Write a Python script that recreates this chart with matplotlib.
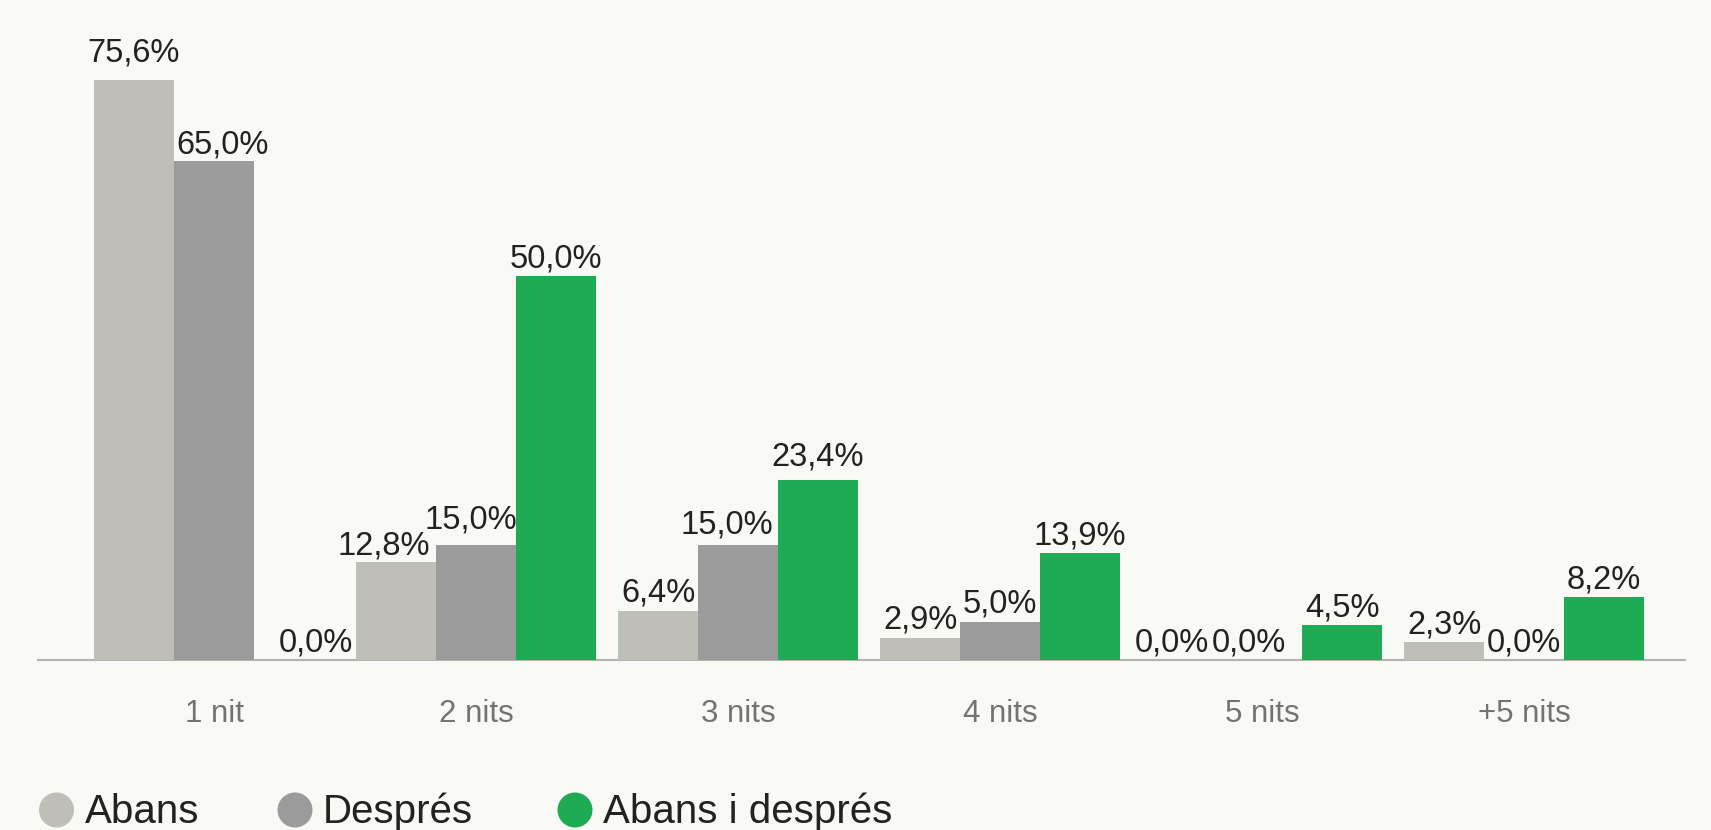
import matplotlib
matplotlib.use("Agg")
import matplotlib.pyplot as plt
from matplotlib.patches import Ellipse
import numpy as np

categories = ["1 nit", "2 nits", "3 nits", "4 nits", "5 nits", "+5 nits"]
series_names = ["Abans", "Després", "Abans i després"]
abans = [75.6, 12.8, 6.4, 2.9, 0.0, 2.3]
despres = [65.0, 15.0, 15.0, 5.0, 0.0, 0.0]
abans_i_despres = [0.0, 50.0, 23.4, 13.9, 4.5, 8.2]
colors = ["#bfbfb7", "#9b9b9b", "#1fab54"]

W, H = 1711, 830
DPI = 100
BG = "#f9f9f6"
plt.rcParams['font.family'] = ['Liberation Sans', 'DejaVu Sans']

fig = plt.figure(figsize=(W / DPI, H / DPI), dpi=DPI, facecolor=BG)

# axes placement in pixels
ax_left, ax_right = 38, 1685
ax_bottom_px = 660  # from top
group_px = 262
first_center = 214
ax = fig.add_axes([ax_left / W, (H - ax_bottom_px) / H,
                   (ax_right - ax_left) / W, ax_bottom_px / H])
ax.set_facecolor(BG)

x = np.arange(len(categories))
bw = 80 / group_px
ax.set_xlim((ax_left - first_center) / group_px, (ax_right - first_center) / group_px)
ax.set_ylim(0, 86.0)

# label nudges (pixels) to mimic the reference's label placement
nudge = {(0, 0): (0, 9), (1, 0): (9, -1), (2, 0): (22, 0),
         (0, 1): (-12, -2), (1, 1): (-5, 7),
         (1, 2): (-11, 2), (2, 2): (0, 6),
         (0, 4): (-10, 0), (1, 4): (-13, 0)}
px2pt = 72 / DPI
gap = 9

all_series = [abans, despres, abans_i_despres]
for k, (vals, col) in enumerate(zip(all_series, colors)):
    xs = x + (k - 1) * bw
    ax.bar(xs, vals, width=bw, color=col, linewidth=0, zorder=2)
    for i, (xi, v) in enumerate(zip(xs, vals)):
        dx, dy = nudge.get((k, i), (0, 0))
        ax.annotate(f"{v:.1f}".replace(".", ",") + "%", xy=(xi, v),
                    xytext=(dx * px2pt, (gap + dy) * px2pt), textcoords="offset points",
                    ha="center", va="baseline", fontsize=23.5,
                    color="#222222", zorder=3)

for s in ["top", "right", "left"]:
    ax.spines[s].set_visible(False)
ax.spines["bottom"].set_color("#b4b4b0")
ax.spines["bottom"].set_linewidth(1.5)
ax.spines["bottom"].set_zorder(1)
ax.set_yticks([])
ax.set_xticks([])

for xi, lab in zip(x, categories):
    ax.annotate(lab, xy=(xi, 0), xycoords=("data", "axes fraction"),
                xytext=(0, -62 * px2pt), textcoords="offset points",
                ha="center", va="baseline", fontsize=22.5, color="#737373")

# legend (manual)
leg_circle_x = [56.5, 295, 575]
leg_text_x = [85, 323, 603]
cy = H - 810
for cx, tx, name, col in zip(leg_circle_x, leg_text_x, series_names, colors):
    fig.add_artist(Ellipse((cx / W, cy / H), 35 / W, 35 / H,
                           transform=fig.transFigure, color=col, linewidth=0))
    fig.text(tx / W, 7 / H, name, ha="left", va="baseline",
             fontsize=29, color="#222222")

fig.savefig("out.png", dpi=DPI, facecolor=BG)
